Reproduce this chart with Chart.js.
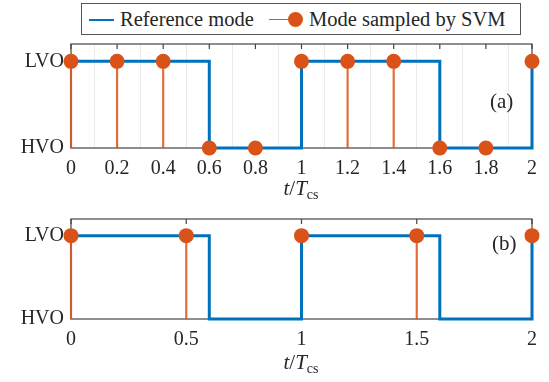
<!DOCTYPE html>
<html>
<head>
<meta charset="utf-8">
<script src="https://cdn.jsdelivr.net/npm/chart.js@4.4.0/dist/chart.umd.min.js"></script>
<style>
  body { margin: 0; width: 549px; height: 382px; background: #fff; position: relative; overflow: hidden;
         font-family: "Liberation Serif", serif; color: #262626; }
  canvas { position: absolute; left: 0; }
  #cA { top: 0; }
  #cB { top: 200px; }
  .txt { position: absolute; font-size: 21px; line-height: 24px; white-space: nowrap; }
  .xt { transform: translateX(-50%); }
  .xt sub { font-size: 14px; vertical-align: -4px; font-style: normal; }
  #legend { position: absolute; left: 81px; top: 3px; width: 438px; height: 30px; border: 1px solid #555; background: #fff; }
  #legend .ln { position: absolute; height: 0; }
  #legend .dot { position: absolute; width: 15px; height: 15px; border-radius: 50%; background: #D95319; }
  #legend span { position: absolute; top: 3px; font-size: 20.5px; line-height: 24px; white-space: nowrap; }
</style>
</head>
<body>
<canvas id="cA" width="549" height="200"></canvas>
<canvas id="cB" width="549" height="182"></canvas>

<div id="legend">
  <div class="ln" style="left:7px;top:15px;width:25px;border-top:2px solid #0072BD"></div>
  <span style="left:38px">Reference mode</span>
  <div class="ln" style="left:187px;top:15px;width:22px;border-top:1px solid #D95319"></div>
  <div class="dot" style="left:206px;top:8px"></div>
  <span style="left:227px">Mode sampled by SVM</span>
</div>

<div class="txt" style="left:490px;top:89px">(a)</div>
<div class="txt" style="left:492px;top:231px">(b)</div>
<div class="txt xt" style="left:301px;top:176px"><i>t</i>/<i>T</i><sub>cs</sub></div>
<div class="txt xt" style="left:301px;top:350px"><i>t</i>/<i>T</i><sub>cs</sub></div>

<script>
// 1 = LVO, 0 = HVO
const refTimes = [0, 0.6, 1, 1.6, 2];
const refModes = [1, 0, 1, 0, 1];

const timesA = [0, 0.2, 0.4, 0.6, 0.8, 1, 1.2, 1.4, 1.6, 1.8, 2];
const modesA = [1, 1, 1, 0, 0, 1, 1, 1, 0, 0, 1];

const timesB = [0, 0.5, 1, 1.5, 2];
const modesB = [1, 1, 1, 1, 1];

const xTicksA = [0, 0.2, 0.4, 0.6, 0.8, 1, 1.2, 1.4, 1.6, 1.8, 2];
const xTicksB = [0, 0.5, 1, 1.5, 2];
const yTickValues = [0, 1];
const yTickLabels = ["HVO", "LVO"];

const blue = "#0072BD";
const orange = "#D95319";
const axisColor = "#444";
const fontFamily = '"Liberation Serif", serif';

// box round the axes + small inward ticks on top edge
const framePlugin = {
  id: "frame",
  beforeDatasetsDraw(chart) {
    const { ctx, chartArea: a, scales } = chart;
    ctx.save();
    ctx.strokeStyle = axisColor;
    ctx.lineWidth = 1.2;
    ctx.strokeRect(a.left, a.top, a.right - a.left, a.bottom - a.top);
    scales.x.ticks.forEach((t) => {
      const px = scales.x.getPixelForValue(t.value);
      ctx.beginPath();
      ctx.moveTo(px, a.top);
      ctx.lineTo(px, a.top + 5);
      ctx.stroke();
    });
    ctx.restore();
  },
};

function makeChart(id, times, modes, xTicks, showGrid, padTop, xHeight) {
  const ctx = document.getElementById(id).getContext("2d");
  return new Chart(ctx, {
    type: "line",
    data: {
      datasets: [
        {
          type: "scatter",
          label: "Mode sampled by SVM",
          data: times.map((t, i) => ({ x: t, y: modes[i] })),
          backgroundColor: orange,
          borderWidth: 0,
          pointRadius: 7.5,
          clip: false,
          order: 0,
        },
        {
          type: "line",
          label: "Reference mode",
          data: refTimes.map((t, i) => ({ x: t, y: refModes[i] })),
          stepped: "before",
          borderColor: blue,
          borderWidth: 3,
          pointRadius: 0,
          fill: false,
          clip: false,
          order: 1,
        },
        {
          type: "bar",
          label: "stems",
          data: times.map((t, i) => ({ x: t, y: modes[i] })),
          backgroundColor: "rgba(217,83,25,0.85)",
          barThickness: 1.5,
          clip: false,
          order: 2,
        },
      ],
    },
    options: {
      responsive: false,
      animation: false,
      layout: { padding: { top: padTop, right: 17, left: 0, bottom: 0 } },
      plugins: { legend: { display: false }, tooltip: { enabled: false } },
      scales: {
        x: {
          type: "linear",
          min: 0,
          max: 2,
          offset: false,
          afterBuildTicks: (s) => { s.ticks = xTicks.map((v) => ({ value: v })); },
          afterFit: (s) => { s.height = xHeight; },
          ticks: {
            callback: (v) => String(v),
            color: "#262626",
            font: { family: fontFamily, size: 20 },
            padding: 9,
            maxRotation: 0,
            autoSkip: false,
          },
          grid: { display: showGrid, color: "rgba(0,0,0,0.08)", drawTicks: false },
          border: { display: false },
        },
        y: {
          min: 0,
          max: 1.2,
          afterBuildTicks: (s) => { s.ticks = yTickValues.map((v) => ({ value: v })); },
          afterFit: (s) => { s.width = 71; },
          ticks: {
            callback: (v, i) => yTickLabels[i],
            color: "#262626",
            font: { family: fontFamily, size: 20 },
            padding: 7,
          },
          grid: { display: false, drawTicks: false },
          border: { display: false },
        },
      },
    },
    plugins: [framePlugin],
  });
}

makeChart("cA", timesA, modesA, xTicksA, true, 44, 52);
makeChart("cB", timesB, modesB, xTicksB, false, 16, 63);
</script>
</body>
</html>
